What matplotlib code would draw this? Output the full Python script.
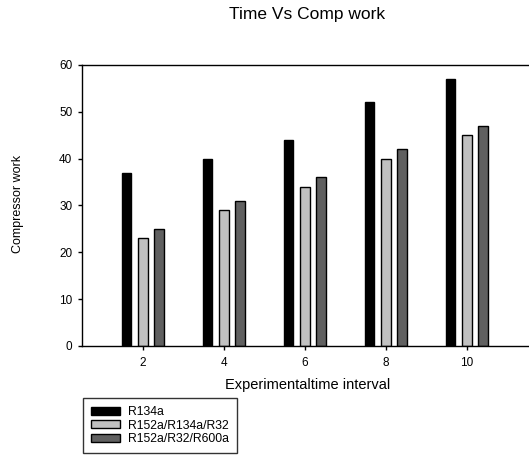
import matplotlib
matplotlib.use("Agg")
import matplotlib.pyplot as plt
import numpy as np

plt.rcParams["font.family"] = ["Liberation Sans", "DejaVu Sans"]

# Compressor work per refrigerant at each time interval
intervals = [2, 4, 6, 8, 10]
r134a = [37, 40, 44, 52, 57]
r152a_r134a_r32 = [23, 29, 34, 40, 45]
r152a_r32_r600a = [25, 31, 36, 42, 47]
series_names = ["R134a", "R152a/R134a/R32", "R152a/R32/R600a"]
series_colors = ["#000000", "#c0c0c0", "#606060"]
y_ticks = [0, 10, 20, 30, 40, 50, 60]

W, H = 529, 455
fig = plt.figure(figsize=(W / 100, H / 100), dpi=100)

# axes box in pixels: left 82, top 65, bottom 346, right runs off the page
left, top, bottom, right = 82, 65, 346, 535
ax = fig.add_axes([left / W, (H - bottom) / H, (right - left) / W, (bottom - top) / H])

x = np.array(intervals, dtype=float)
offsets = [-0.41, 0.0, 0.40]
width = 0.24
for vals, off, col, name in zip([r134a, r152a_r134a_r32, r152a_r32_r600a],
                                offsets, series_colors, series_names):
    ax.bar(x + off, vals, width, color=col, edgecolor="black", linewidth=1.0,
           label=name, zorder=2)

px_per_unit = 40.5
x0 = 2 - (143 - left) / px_per_unit
ax.set_xlim(x0, x0 + (right - left) / px_per_unit)
ax.set_ylim(0, 60)
ax.set_xticks(intervals)
ax.set_yticks(y_ticks)
ax.tick_params(direction="out", length=3, width=1, labelsize=8.5)
ax.tick_params(axis="y", pad=4)
ax.tick_params(axis="x", pad=5)
for sp in ax.spines.values():
    sp.set_linewidth(1.0)

fig.text(307 / W, 1 - 15 / H, "Time Vs Comp work", ha="center", va="center",
         fontsize=12.5)
fig.text(308 / W, 1 - 385 / H, "Experimentaltime interval", ha="center",
         va="center", fontsize=10.5)
fig.text(18 / W, 1 - 204 / H, "Compressor work", ha="center", va="center",
         rotation=90, fontsize=9)

leg = fig.legend(loc="lower left", bbox_to_anchor=(83 / W, 2 / H),
                 bbox_transform=fig.transFigure, borderaxespad=0,
                 fontsize=8.8, handlelength=2.4, handleheight=0.66,
                 handletextpad=0.66, labelspacing=0.12, borderpad=0.65,
                 fancybox=False, frameon=True)
leg.get_frame().set_edgecolor("black")
leg.get_frame().set_linewidth(1.0)

fig.savefig("out.png", dpi=100)
